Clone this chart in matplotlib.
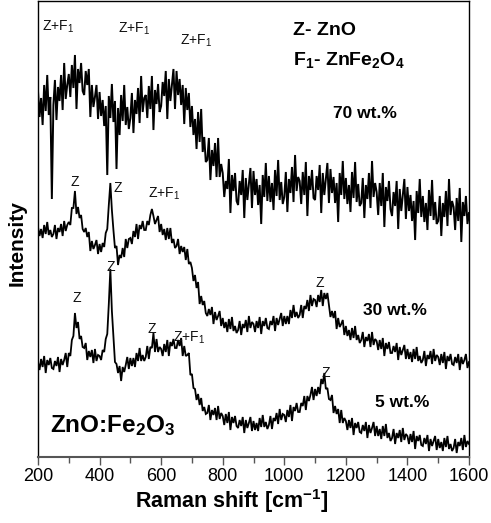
import numpy as np
import matplotlib
matplotlib.use("Agg")
import matplotlib.pyplot as plt
from matplotlib.ticker import MultipleLocator

plt.rcParams['font.family'] = ['Liberation Sans', 'DejaVu Sans']
plt.rcParams['mathtext.fontset'] = 'custom'
plt.rcParams['mathtext.rm'] = 'Liberation Sans'
plt.rcParams['mathtext.it'] = 'Liberation Sans:italic'
plt.rcParams['mathtext.bf'] = 'Liberation Sans:bold'

# Raman shift grid (cm^-1), one reading every 5 cm^-1
shift = np.arange(200, 1601, 5)

# 70 wt.% spectrum (arbitrary intensity units, incl. vertical offset)
s70 = [
    366, 340, 359, 332, 372, 346, 382, 342, 360, 258,
    352, 377, 337, 370, 356, 382, 347, 394, 358, 372,
    383, 360, 392, 369, 402, 348, 388, 374, 394, 366,
    362, 386, 372, 388, 340, 372, 350, 360, 372, 338,
    365, 341, 357, 331, 351, 282, 361, 339, 373, 335,
    356, 288, 349, 322, 362, 336, 372, 332, 350, 328,
    339, 364, 324, 357, 343, 369, 334, 381, 345, 359,
    362, 339, 371, 348, 381, 327, 367, 353, 373, 345,
    351, 375, 361, 386, 338, 378, 356, 372, 388, 348,
    386, 362, 378, 352, 372, 333, 369, 347, 364, 330,
    351, 322, 338, 308, 345, 315, 348, 305, 320, 295,
    297, 319, 277, 307, 291, 314, 280, 319, 280, 293,
    284, 260, 276, 268, 298, 244, 282, 266, 284, 256,
    252, 276, 262, 287, 239, 279, 257, 273, 289, 249,
    286, 262, 278, 252, 272, 233, 282, 260, 294, 256,
    281, 255, 274, 247, 287, 261, 297, 257, 275, 253,
    260, 285, 245, 278, 264, 290, 255, 302, 266, 280,
    276, 253, 285, 262, 295, 241, 281, 267, 287, 259,
    257, 281, 267, 292, 244, 284, 262, 278, 294, 254,
    288, 264, 280, 254, 274, 235, 284, 262, 296, 258,
    279, 253, 272, 245, 285, 259, 295, 255, 273, 251,
    254, 279, 239, 272, 258, 284, 249, 296, 260, 274,
    265, 242, 274, 251, 284, 230, 270, 256, 276, 248,
    241, 265, 251, 276, 228, 268, 246, 262, 278, 238,
    270, 246, 262, 236, 256, 217, 266, 244, 278, 240,
    261, 235, 254, 227, 267, 241, 277, 237, 255, 233,
    236, 261, 221, 254, 240, 266, 231, 278, 242, 256,
    250, 227, 259, 236, 269, 215, 255, 241, 261, 233,
    244,
]

# 30 wt.% spectrum
s30 = [
    230, 221, 228, 219, 232, 223, 235, 222, 227, 220,
    223, 232, 218, 229, 225, 233, 221, 236, 226, 232,
    235, 232, 249, 249, 266, 243, 250, 239, 242, 228,
    225, 229, 220, 225, 206, 216, 208, 212, 217, 203,
    213, 205, 214, 210, 224, 228, 252, 274, 247, 227,
    209, 211, 192, 202, 199, 209, 200, 218, 209, 218,
    219, 213, 226, 220, 233, 218, 232, 228, 236, 227,
    227, 236, 232, 242, 248, 241, 233, 237, 241, 225,
    233, 222, 228, 217, 229, 218, 229, 214, 218, 209,
    211, 218, 203, 211, 205, 210, 197, 208, 193, 195,
    189, 176, 182, 169, 175, 153, 161, 152, 156, 144,
    141, 148, 142, 150, 133, 145, 137, 141, 146, 131,
    139, 129, 135, 125, 138, 128, 140, 126, 131, 124,
    127, 136, 122, 133, 129, 137, 125, 141, 129, 135,
    133, 125, 136, 129, 140, 123, 136, 131, 139, 129,
    128, 136, 132, 141, 126, 139, 132, 138, 144, 131,
    141, 133, 141, 133, 147, 139, 152, 140, 145, 139,
    142, 152, 139, 151, 148, 157, 146, 162, 151, 158,
    157, 150, 162, 155, 167, 151, 164, 158, 164, 152,
    140, 146, 139, 146, 128, 139, 130, 133, 137, 122,
    131, 121, 127, 117, 129, 119, 131, 117, 122, 114,
    117, 125, 110, 120, 116, 123, 110, 125, 112, 118,
    116, 107, 117, 108, 119, 101, 114, 108, 115, 104,
    104, 111, 105, 114, 97, 110, 102, 107, 112, 98,
    108, 98, 105, 95, 108, 98, 110, 96, 101, 94,
    97, 106, 91, 102, 98, 106, 93, 108, 96, 102,
    100, 92, 103, 94, 105, 88, 101, 96, 103, 93,
    92, 100, 94, 103, 87, 100, 93, 97, 103, 89,
    95,
]

# 5 wt.% spectrum
s5 = [
    95, 87, 98, 90, 101, 84, 97, 92, 99, 89,
    88, 96, 91, 100, 85, 98, 92, 97, 104, 90,
    104, 101, 117, 121, 144, 129, 135, 118, 121, 110,
    109, 114, 97, 106, 100, 107, 94, 108, 96, 102,
    101, 97, 107, 105, 118, 123, 153, 188, 146, 120,
    95, 93, 84, 91, 76, 90, 85, 92, 100, 88,
    99, 91, 99, 90, 104, 96, 109, 96, 102, 96,
    100, 111, 98, 110, 109, 124, 105, 118, 105, 110,
    108, 101, 113, 105, 117, 101, 115, 111, 118, 109,
    109, 117, 111, 119, 101, 111, 101, 102, 104, 82,
    83, 69, 68, 57, 63, 52, 59, 46, 50, 43,
    44, 52, 37, 47, 42, 49, 37, 51, 38, 44,
    41, 32, 43, 34, 45, 27, 40, 34, 41, 31,
    29, 37, 31, 40, 24, 37, 29, 34, 40, 26,
    36, 27, 34, 26, 39, 30, 42, 30, 35, 28,
    32, 41, 28, 39, 36, 44, 33, 48, 37, 43,
    42, 35, 47, 40, 52, 36, 50, 46, 54, 45,
    45, 54, 51, 61, 47, 61, 56, 62, 70, 57,
    68, 61, 70, 63, 78, 73, 84, 68, 69, 58,
    57, 62, 44, 51, 43, 48, 34, 47, 34, 39,
    36, 27, 37, 29, 39, 22, 34, 29, 35, 25,
    24, 32, 26, 35, 19, 32, 24, 29, 35, 21,
    31, 21, 28, 18, 31, 21, 33, 19, 24, 16,
    19, 28, 13, 24, 19, 27, 15, 29, 17, 23,
    21, 13, 23, 15, 26, 8, 21, 16, 22, 12,
    11, 19, 13, 22, 6, 18, 11, 16, 21, 7,
    18, 9, 15, 6, 19, 10, 21, 8, 13, 6,
    9, 18, 4, 15, 11, 19, 7, 22, 10, 16,
    13,
]

series_labels = ["70 wt.%", "30 wt.%", "5 wt.%"]

W, H = 491, 523
fig = plt.figure(figsize=(W / 100, H / 100), dpi=100)
ax = fig.add_axes([38 / W, (H - 457) / H, 431 / W, 456 / H])

for s, lw in ((s70, 1.4), (s30, 1.3), (s5, 1.3)):
    ax.plot(shift, s, color='black', lw=lw, solid_joinstyle='miter')

ax.set_xlim(200, 1600)
ax.set_ylim(0, 456)
ax.xaxis.set_major_locator(MultipleLocator(200))
ax.xaxis.set_minor_locator(MultipleLocator(100))
ax.tick_params(axis='x', which='major', direction='out', length=6, width=1,
               color='#555555', labelsize=13, pad=2)
ax.tick_params(axis='x', which='minor', direction='out', length=4, width=1,
               color='#555555')
ax.set_yticks([])
ax.spines['bottom'].set_color('#555555')
ax.spines['bottom'].set_linewidth(1.5)
for sp in ('left', 'right', 'top'):
    ax.spines[sp].set_color('black')
    ax.spines[sp].set_linewidth(1.0)

ax.set_xlabel(r"Raman shift [cm$^{\mathbf{-1}}$]", fontsize=15.5, fontweight='bold')
ax.xaxis.set_label_coords(0.45, -0.065)
ax.set_ylabel("Intensity", fontsize=15, fontweight='bold')
ax.yaxis.set_label_coords(-0.026, 0.47)

small = dict(fontsize=10, color='#111111', va='baseline')
# peak assignments
ax.text(213, 426, "Z+F$_1$", ha='left', **small)
ax.text(460, 424, "Z+F$_1$", ha='left', **small)
ax.text(661, 412, "Z+F$_1$", ha='left', **small)
ax.text(320, 271, "Z", ha='center', **small)
ax.text(458, 265, "Z", ha='center', **small)
ax.text(557, 259, "Z+F$_1$", ha='left', **small)
ax.text(327, 155, "Z", ha='center', **small)
ax.text(437, 186, "Z", ha='center', **small)
ax.text(570, 124, "Z", ha='center', **small)
ax.text(638, 115, "Z+F$_1$", ha='left', **small)
ax.text(1116, 170, "Z", ha='center', **small)
ax.text(1135, 80, "Z", ha='center', **small)

big = dict(fontsize=14, fontweight='bold', va='baseline', ha='left')
ax.text(1028, 422, "Z- ZnO", **big)
ax.text(1028, 392, r"F$_\mathbf{1}$- ZnFe$_\mathbf{2}$O$_\mathbf{4}$", **big)

lab = dict(fontsize=12.5, fontweight='bold', va='baseline', ha='left')
ax.text(1158, 339, series_labels[0], **lab)
ax.text(1256, 142, series_labels[1], **lab)
ax.text(1295, 50, series_labels[2], **lab)

ax.text(239, 25, r"ZnO:Fe$_\mathbf{2}$O$_\mathbf{3}$", fontsize=17.5, fontweight='bold',
        va='baseline', ha='left')

fig.savefig("out.png", dpi=100)
